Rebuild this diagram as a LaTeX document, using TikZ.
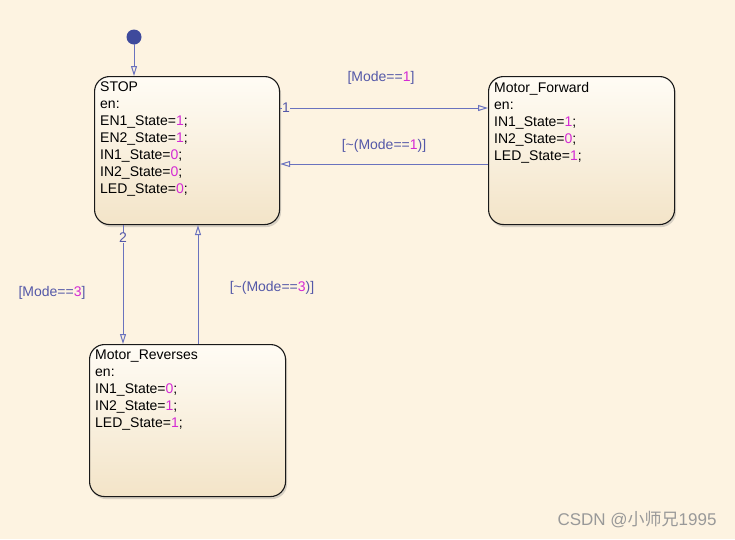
\documentclass[tikz,border=0pt]{standalone}
\usepackage{fontspec}
\setmainfont{Liberation Sans}
\newfontfamily\cjkfont{Noto Sans CJK SC}
\usetikzlibrary{arrows.meta,shadows}
\definecolor{bgc}{HTML}{FDF3E1}
\definecolor{boxtop}{HTML}{FFFCF5}
\definecolor{boxbot}{HTML}{F3E4C8}
\definecolor{trc}{HTML}{6A72BE}
\definecolor{lblc}{HTML}{5458A8}
\definecolor{numc}{HTML}{D42AD4}
\definecolor{dotc}{HTML}{3E4A9C}
\newcommand{\nm}[1]{\textcolor{numc}{#1}}
\tikzset{
  statebox/.style={draw=black!90, line width=1.1pt, rounded corners=15pt,
    top color=boxtop, bottom color=boxbot, anchor=north west,
    drop shadow={opacity=0.3, shadow xshift=1.5pt, shadow yshift=-2.5pt}},
  statetext/.style={anchor=north west, align=left, inner sep=0pt,
    font=\fontsize{14pt}{17pt}\selectfont},
  tr/.style={draw=trc, line width=1pt, -{Triangle[open, length=10pt, width=6pt]}},
  lbl/.style={text=lblc, font=\fontsize{14pt}{16pt}\selectfont, inner sep=1pt},
  numlbl/.style={text=lblc, font=\fontsize{14pt}{16pt}\selectfont, fill=bgc, inner sep=0.5pt}
}
\begin{document}
\begin{tikzpicture}[x=1pt,y=-1pt]
\fill[bgc] (0,0) rectangle (735,539);
\useasboundingbox (0,0) rectangle (735,539);

% states
\node[statebox, minimum width=185pt, minimum height=148pt] (stop) at (94,76) {};
\node[statebox, minimum width=186pt, minimum height=148pt] (fwd) at (488,76) {};
\node[statebox, minimum width=196pt, minimum height=152pt] (rev) at (89,344) {};

\node[statetext] (stoptxt) at (100,82) {STOP\\en:\\EN1\_State=\nm{1};\\EN2\_State=\nm{1};\\IN1\_State=\nm{0};\\IN2\_State=\nm{0};\\LED\_State=\nm{0};};
\node[statetext] (fwdtxt) at (494,82) {Motor\_Forward\\en:\\IN1\_State=\nm{1};\\IN2\_State=\nm{0};\\LED\_State=\nm{1};};
\node[statetext] (revtxt) at (95,350) {Motor\_Reverses\\en:\\IN1\_State=\nm{0};\\IN2\_State=\nm{1};\\LED\_State=\nm{1};};

% default transition
\fill[dotc] (134,37) circle (7.5pt);
\coordinate (init) at (134,44);
\draw[tr] (init) -- (stop.north west -| init);

% STOP <-> Motor_Forward
\draw[tr] ([yshift=-32pt]stop.north east) -- ([yshift=-32pt]fwd.north west);
\node[numlbl] (n1) at (286,108) {1};
\node[lbl] (l1) at (381,78) {[Mode==\nm{1}]};
\draw[tr] ([yshift=-88pt]fwd.north west) -- ([yshift=-88pt]stop.north east);
\node[lbl] (l2) at (384,146) {[\textasciitilde(Mode==\nm{1})]};

% STOP <-> Motor_Reverses
\draw[tr] ([xshift=29pt]stop.south west) -- ([xshift=34pt]rev.north west);
\node[numlbl] (n2) at (123,238) {2};
\node[lbl] (l3) at (52,293) {[Mode==\nm{3}]};
\draw[tr] ([xshift=109pt]rev.north west) -- ([xshift=104pt]stop.south west);
\node[lbl] (l4) at (272,288) {[\textasciitilde(Mode==\nm{3})]};

% watermark
\node[text=black!40, font=\fontsize{17pt}{19pt}\selectfont, anchor=east] (wm) at (720,520) {CSDN @{\cjkfont 小师兄}1995};
\end{tikzpicture}
\end{document}
